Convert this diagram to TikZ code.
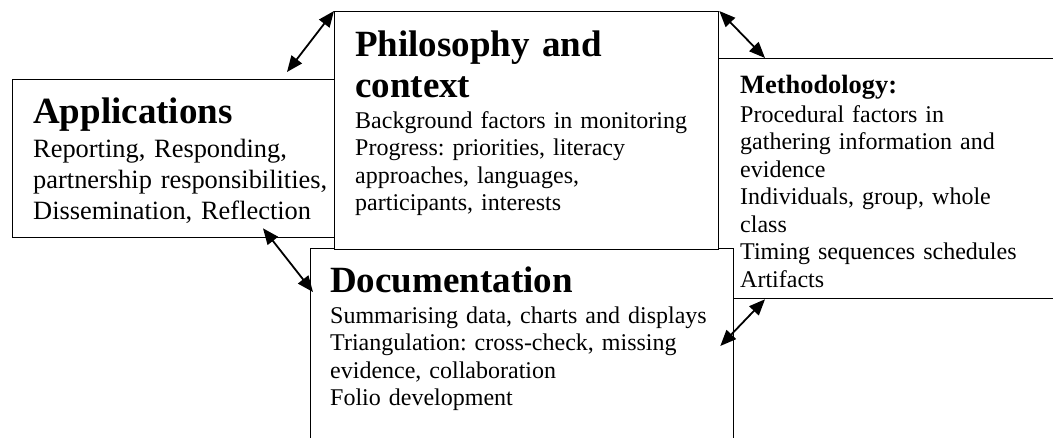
\documentclass[tikz,border=0pt]{standalone}
\usepackage{fontspec}
\setmainfont{Liberation Serif}
\usepackage{tikz}
\usetikzlibrary{arrows.meta,calc}
\frenchspacing
\tikzset{
	box/.style={draw=black, fill=white, line width=1.3pt, anchor=north west, inner sep=0pt},
	link/.style={{Triangle[length=16pt,width=13pt]}-{Triangle[length=16pt,width=13pt]}, line width=1.8pt, black},
	txt/.style={anchor=base west, inner sep=0pt, align=left, text width=#1},
	ttl/.style={font=\fontsize{37}{41}\selectfont\bfseries},
	bdy/.style={font=\fontsize{24}{27.5}\selectfont}
}

\begin{document}
\begin{tikzpicture}[x=1pt, y=-1pt]
		\useasboundingbox (0,0) rectangle (1053,437);
		\fill [white] (0,0) rectangle (1053,437);
		\clip (0,0) rectangle (1053,437);

		% boxes, back to front
		\node [box, minimum width=328pt, minimum height=158pt] (apps) at (12, 79) {};
		\node [box, minimum width=352pt, minimum height=240pt] (meth) at (718, 58) {};
		\node [box, minimum width=423pt, minimum height=222pt] (doc) at (310, 248) {};
		\node [box, minimum width=384pt, minimum height=238pt] (phil) at (334, 11) {};

		% texts
		\node [txt=300pt, ttl] (appsT) at (33, 123) {Applications};
		\node [txt=300pt, font=\fontsize{26.4}{31}\selectfont] (appsB) at (33, 157)
			{Reporting, Responding,\\ partnership responsibilities,\\ Dissemination, Reflection};

		\node [txt=360pt, ttl] (philT) at (355, 56) {Philosophy and\\ context};
		\node [txt=360pt, bdy] (philB) at (355, 128)
			{Background factors in monitoring\\ Progress: priorities, literacy\\ approaches, languages,\\ participants, interests};

		\node [txt=300pt, font=\fontsize{26.4}{31}\selectfont\bfseries] (methT) at (740, 93) {Methodology:};
		\node [txt=300pt, bdy] (methB) at (740, 122)
			{Procedural factors in\\ gathering information and\\ evidence\\ Individuals, group, whole\\ class\\ Timing sequences schedules\\ Artifacts};

		\node [txt=390pt, ttl] (docT) at (330, 292) {Documentation};
		\node [txt=390pt, bdy] (docB) at (330, 323)
			{Summarising data, charts and displays\\ Triangulation: cross-check, missing\\ evidence, collaboration\\ Folio development};

		% links
		\draw [link] ([shift={(275,-7)}]apps.north west) -- (phil.north west);
		\draw [link] (phil.north east) -- ([shift={(47,0)}]meth.north west);
		\draw [link] ([shift={(251,-10)}]apps.south west) -- ([shift={(3,44)}]doc.north west);
		\draw [link] ([shift={(-14,98)}]doc.north east) -- ([shift={(47,0)}]meth.south west);
	\end{tikzpicture}
\end{document}
